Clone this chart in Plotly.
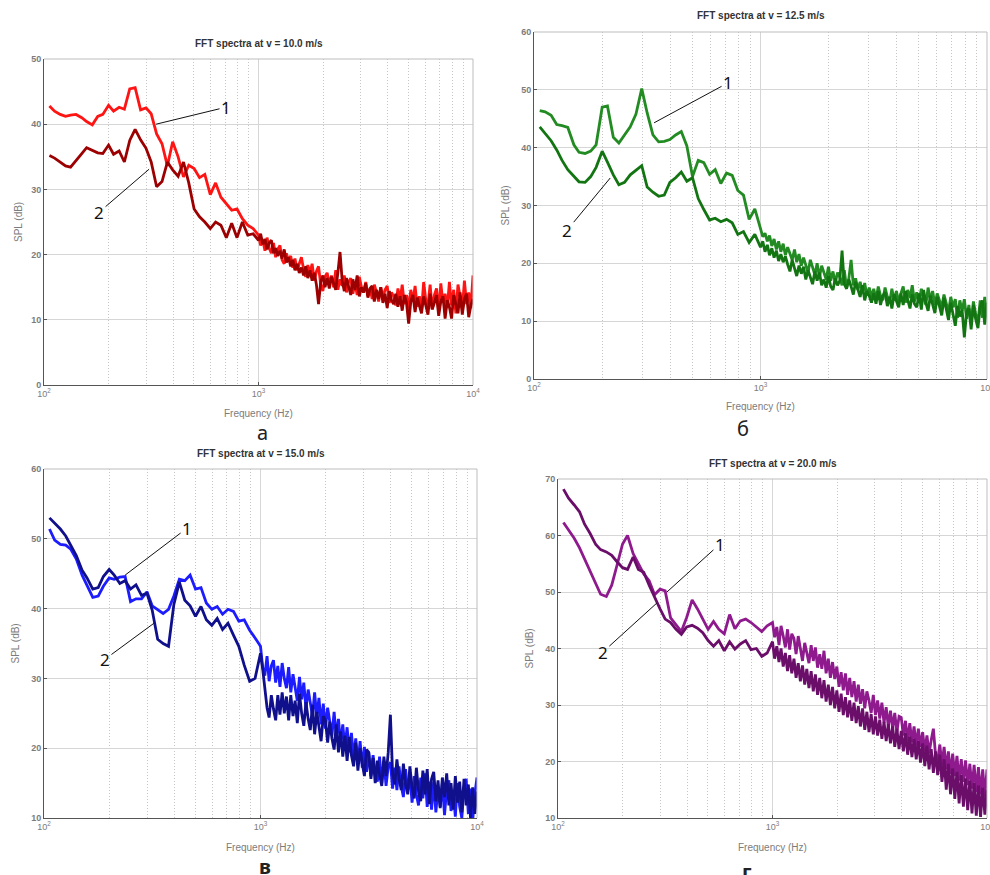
import numpy as np
import plotly.graph_objects as go

# Frequency samples (Hz), shared by all spectra
FREQ = [106, 112, 119, 126, 133, 141, 150, 158, 168, 178, 188, 200, 211, 224, 237, 251, 266, 282, 299, 316,
        335, 355, 376, 398, 422, 447, 473, 501, 531, 562, 596, 631, 668, 708, 750, 794, 841, 891, 944,
        1000, 1023, 1047, 1072, 1096, 1122, 1148, 1175, 1202, 1230,
        1259, 1288, 1318, 1349, 1380, 1413, 1445, 1479, 1514, 1549,
        1585, 1622, 1660, 1698, 1738, 1778, 1820, 1862, 1905, 1950,
        1995, 2042, 2089, 2138, 2188, 2239, 2291, 2344, 2399, 2455,
        2512, 2570, 2630, 2692, 2754, 2818, 2884, 2951, 3020, 3090,
        3162, 3236, 3311, 3388, 3467, 3548, 3631, 3715, 3802, 3890,
        3981, 4074, 4169, 4266, 4365, 4467, 4571, 4677, 4786, 4898,
        5012, 5129, 5248, 5370, 5495, 5623, 5754, 5888, 6026, 6166,
        6310, 6457, 6607, 6761, 6918, 7079, 7244, 7413, 7586, 7762,
        7943, 8128, 8318, 8511, 8710, 8913, 9120, 9333, 9550, 9772, 10000]

# Panel а : v = 10.0 m/s
A1 = [42.8, 42.0, 41.5, 41.2, 41.4, 41.5, 41.0, 40.4, 39.9, 41.2, 41.5, 42.9, 42.0, 42.6, 42.3, 45.4, 45.6, 42.2, 42.5, 41.6,
      38.5, 37.0, 33.6, 37.3, 35.0, 31.9, 33.7, 33.2, 31.8, 32.3, 29.2, 31.0, 28.8, 27.8, 26.8, 27.0, 25.5, 24.5, 24.0,
      23.0, 21.4, 22.2, 20.6, 22.6, 21.0, 20.2, 21.8, 19.6, 20.8,
      21.4, 19.2, 18.6, 20.2, 19.0, 19.8, 18.0, 19.4, 17.6, 18.8,
      19.6, 17.8, 16.6, 18.4, 17.2, 18.6, 16.0, 17.4, 18.2, 15.4,
      14.4, 16.6, 17.2, 15.4, 16.8, 15.0, 17.6, 14.6, 16.2, 15.2,
      16.8, 14.2, 15.8, 16.4, 14.0, 15.6, 13.8, 16.6, 15.0, 14.2,
      15.8, 13.6, 14.8, 13.2, 15.4, 14.2, 12.8, 15.0, 13.4, 14.6,
      15.2, 12.6, 14.2, 13.6, 12.2, 14.8, 13.0, 15.4, 12.4, 13.8,
      11.8, 14.6, 12.8, 15.2, 12.0, 13.6, 11.4, 15.8, 13.0, 12.2,
      15.4, 11.6, 13.8, 14.8, 11.2, 15.6, 12.6, 14.0, 11.8, 15.8,
      12.2, 14.6, 11.0, 15.4, 13.2, 11.6, 16.0, 12.4, 14.2, 11.8, 16.8]
A2 = [35.2, 34.8, 34.2, 33.6, 33.4, 34.5, 35.5, 36.4, 36.0, 35.6, 35.5, 36.8, 35.4, 35.9, 34.2, 37.5, 39.2, 37.6, 36.3, 34.2,
      30.4, 31.2, 34.2, 33.0, 32.0, 34.2, 31.0, 27.0, 25.8, 25.0, 24.0, 25.0, 24.5, 22.6, 24.8, 22.6, 25.0, 23.0, 23.2,
      22.2, 23.2, 21.6, 22.4, 20.8, 21.8, 22.2, 20.2, 21.0, 19.8,
      20.6, 19.4, 20.8, 18.8, 19.6, 18.2, 19.2, 17.6, 18.6, 17.2,
      18.0, 16.8, 18.2, 16.4, 17.6, 16.0, 17.2, 15.4, 12.4, 15.8,
      16.8, 15.0, 16.4, 14.8, 16.6, 15.6, 14.6, 17.2, 20.4, 16.0,
      14.4, 16.4, 15.0, 13.8, 16.2, 14.6, 16.8, 13.6, 15.0, 14.2,
      15.6, 13.4, 14.8, 15.2, 12.8, 14.6, 13.2, 15.0, 12.6, 14.0,
      11.8, 14.4, 13.0, 12.4, 14.0, 12.0, 13.6, 11.4, 13.8, 12.6,
      9.4, 12.8, 13.8, 11.2, 13.4, 12.0, 11.0, 13.6, 12.4, 10.8,
      14.0, 11.6, 12.6, 13.8, 10.6, 12.8, 13.6, 10.2, 13.0, 12.0,
      10.2, 13.8, 12.4, 11.0, 14.2, 10.8, 13.2, 14.0, 10.4, 12.2, 13.2]

# Panel б : v = 12.5 m/s
B1 = [46.4, 46.2, 45.6, 44.0, 43.8, 43.5, 40.5, 39.2, 39.0, 39.4, 40.5, 47.0, 47.2, 41.8, 40.8, 42.2, 43.6, 45.8, 50.2, 46.0,
      42.2, 41.0, 41.1, 41.4, 42.2, 42.8, 40.3, 35.0, 37.8, 37.4, 35.4, 36.2, 33.8, 35.6, 35.2, 32.6, 31.8, 27.6, 29.4,
      26.0, 24.6, 25.2, 23.8, 24.8, 23.0, 24.2, 22.4, 23.8, 22.0,
      23.4, 21.4, 22.8, 21.8, 20.6, 22.4, 20.2, 21.6, 19.6, 21.0,
      19.8, 18.4, 20.6, 19.2, 18.0, 20.0, 17.6, 19.6, 18.4, 17.2,
      19.4, 17.0, 18.6, 16.6, 18.4, 17.6, 16.2, 18.8, 15.8, 17.4,
      20.6, 16.2, 17.4, 15.4, 16.8, 15.0, 16.6, 14.4, 15.8, 14.2,
      15.6, 13.8, 16.0, 14.4, 13.6, 15.8, 14.2, 13.2, 15.6, 13.6,
      15.2, 13.4, 14.8, 16.0, 13.2, 15.4, 14.0, 16.2, 13.4, 15.0,
      13.2, 15.6, 14.2, 12.8, 15.8, 13.6, 15.2, 12.8, 14.8, 13.4,
      12.4, 14.6, 13.2, 11.6, 14.2, 12.4, 13.8, 10.6, 13.6, 11.8,
      13.8, 10.4, 12.8, 9.6, 13.4, 11.2, 9.8, 13.6, 10.6, 14.2, 10.8]
B2 = [43.6, 42.4, 41.2, 39.6, 37.8, 36.2, 35.0, 34.1, 34.0, 35.0, 36.6, 39.4, 37.5, 35.3, 33.6, 34.0, 35.3, 36.1, 36.9, 33.2,
      32.3, 31.6, 31.8, 34.0, 34.8, 35.8, 34.2, 34.8, 31.2, 29.3, 27.5, 27.8, 27.2, 27.6, 27.0, 25.0, 25.5, 23.6, 25.0,
      22.8, 23.8, 22.0, 23.2, 21.4, 22.6, 21.0, 22.2, 20.4, 21.6,
      20.2, 21.2, 19.8, 18.6, 20.6, 19.2, 17.8, 19.6, 18.2, 19.4,
      17.2, 18.8, 17.6, 16.4, 18.6, 17.0, 18.4, 16.2, 17.2, 15.8,
      17.8, 16.0, 15.4, 17.4, 16.2, 17.0, 22.2, 16.4, 15.6, 17.2,
      16.0, 14.6, 16.8, 15.4, 14.2, 16.2, 13.6, 15.2, 14.4, 13.2,
      14.8, 13.0, 15.2, 12.8, 14.4, 15.0, 12.6, 14.2, 12.2, 14.6,
      13.4, 12.4, 14.8, 12.8, 15.2, 13.6, 12.2, 14.6, 13.0, 12.4,
      14.8, 12.0, 15.4, 13.2, 11.8, 14.4, 12.6, 11.4, 14.2, 12.8,
      11.0, 14.0, 12.2, 10.2, 13.2, 11.4, 9.2, 12.6, 10.8, 12.0,
      7.2, 11.6, 12.2, 8.6, 12.8, 10.4, 8.8, 12.4, 13.6, 9.4, 13.2]

# Panel в : v = 15.0 m/s
C1 = [51.4, 49.8, 49.2, 49.1, 48.5, 47.1, 44.8, 43.4, 41.6, 41.8, 43.2, 44.4, 44.2, 44.5, 44.6, 41.0, 41.4, 41.4, 42.4, 40.4,
      39.9, 39.3, 39.9, 41.8, 44.2, 44.0, 44.8, 42.8, 43.0, 40.8, 39.9, 40.3, 39.2, 39.9, 39.6, 38.2, 38.4, 36.9, 35.8,
      34.6, 31.6, 30.4, 33.2, 29.6, 31.8, 32.6, 29.4, 31.8, 28.8,
      32.2, 30.0, 28.6, 31.6, 28.0, 30.6, 28.4, 26.8, 30.2, 27.0,
      29.4, 25.6, 28.4, 26.2, 24.6, 28.0, 24.4, 27.2, 23.4, 26.4,
      22.8, 25.8, 23.4, 21.8, 25.2, 21.6, 24.2, 20.6, 23.4, 20.0,
      23.0, 19.4, 22.2, 18.6, 21.4, 17.8, 21.0, 17.2, 20.2, 16.6,
      19.4, 16.0, 19.0, 16.6, 15.2, 18.8, 15.0, 18.2, 14.6, 17.4,
      18.0, 14.2, 17.2, 14.0, 17.4, 14.6, 13.0, 17.0, 13.8, 16.2,
      12.2, 16.0, 13.4, 11.8, 15.8, 12.8, 16.4, 11.6, 15.2, 11.2,
      15.2, 10.8, 14.4, 11.6, 15.0, 10.4, 14.2, 15.4, 11.0, 13.8,
      10.2, 15.0, 11.6, 10.0, 14.4, 15.6, 10.6, 14.2, 9.6, 13.4, 15.8]
C2 = [53.0, 52.2, 51.4, 50.4, 49.1, 47.6, 45.5, 44.4, 42.8, 43.0, 44.6, 45.6, 44.8, 43.6, 44.0, 42.8, 43.4, 41.9, 42.2, 39.8,
      35.6, 35.0, 34.6, 40.6, 43.8, 41.2, 40.4, 38.9, 40.3, 38.4, 37.6, 38.6, 37.0, 37.9, 36.2, 34.6, 31.9, 29.6, 30.0,
      33.6, 31.4, 28.6, 25.8, 24.4, 27.6, 25.6, 24.0, 27.6, 24.8,
      28.0, 25.0, 27.4, 24.0, 27.6, 24.6, 26.8, 23.6, 27.8, 25.0,
      23.2, 26.6, 24.2, 22.6, 26.2, 22.0, 25.2, 23.0, 21.0, 24.6,
      24.0, 20.8, 23.8, 21.4, 19.8, 23.4, 19.4, 22.4, 18.8, 21.8,
      18.2, 21.6, 19.0, 17.4, 20.8, 16.8, 20.0, 17.8, 16.0, 19.8,
      19.4, 15.6, 18.6, 15.0, 18.2, 16.2, 14.6, 18.8, 16.0, 19.4,
      24.8, 16.4, 14.8, 18.4, 15.6, 14.0, 17.8, 14.8, 13.4, 17.4,
      14.4, 12.8, 17.2, 13.8, 12.4, 16.8, 13.4, 17.0, 12.0, 15.6,
      16.6, 12.4, 15.4, 11.4, 15.8, 13.0, 16.4, 11.8, 15.0, 11.2,
      16.0, 12.2, 15.2, 10.8, 15.6, 11.8, 14.8, 10.0, 14.4, 10.6, 13.8]

# Panel г : v = 20.0 m/s
D1 = [62.3, 61.0, 59.5, 57.8, 55.8, 53.6, 51.5, 49.6, 49.2, 51.2, 54.6, 58.5, 60.0, 56.8, 55.0, 53.2, 52.0, 49.5, 50.5, 50.2,
      45.4, 44.2, 43.0, 45.5, 48.6, 47.0, 45.2, 43.4, 44.8, 43.4, 42.6, 46.0, 43.5, 44.9, 45.2, 44.6, 43.8, 43.0, 44.0,
      44.6, 42.0, 43.8, 40.6, 44.0, 42.2, 40.2, 43.4, 39.8, 42.6,
      41.8, 39.0, 42.2, 40.0, 37.8, 41.0, 39.4, 37.4, 40.6, 37.8,
      40.2, 36.6, 39.0, 36.4, 39.6, 35.6, 38.2, 34.8, 37.6, 34.6,
      36.8, 33.2, 35.8, 32.6, 35.6, 31.8, 34.8, 31.4, 34.2, 30.6,
      33.6, 30.2, 32.8, 29.4, 32.4, 30.8, 28.6, 31.8, 28.2, 30.8,
      27.6, 30.4, 26.8, 29.6, 26.2, 29.0, 25.8, 28.6, 25.2, 28.0,
      27.8, 24.6, 27.2, 23.6, 26.8, 23.4, 26.2, 22.8, 25.8, 22.6,
      25.2, 21.8, 24.6, 21.4, 23.8, 25.8, 21.2, 20.2, 23.0, 19.4,
      22.6, 18.6, 21.8, 17.8, 21.4, 17.4, 21.0, 16.6, 20.4, 16.4,
      20.2, 15.8, 19.6, 15.2, 19.4, 14.6, 19.0, 14.2, 18.6, 13.8, 18.6]
D2 = [68.2, 66.6, 65.4, 64.2, 62.0, 60.4, 58.4, 57.5, 57.1, 56.5, 55.4, 54.3, 54.0, 56.2, 54.0, 53.5, 51.2, 49.0, 47.0, 45.2,
      44.6, 43.4, 42.5, 43.8, 44.1, 43.6, 42.8, 41.4, 40.4, 41.4, 39.6, 41.2, 39.9, 40.8, 41.4, 39.8, 40.0, 38.6, 39.2,
      41.2, 38.2, 40.4, 37.6, 40.0, 36.8, 39.2, 36.0, 38.8, 35.6,
      38.2, 34.8, 37.4, 34.2, 37.0, 33.6, 36.4, 33.0, 36.0, 32.4,
      35.4, 31.8, 34.8, 31.2, 34.4, 30.6, 33.6, 30.0, 33.2, 29.4,
      32.6, 28.8, 32.0, 28.2, 31.4, 27.8, 30.8, 27.2, 30.4, 26.8,
      29.8, 26.2, 29.4, 25.6, 28.8, 25.2, 28.4, 24.8, 28.0, 24.6,
      27.4, 24.0, 27.0, 23.6, 26.6, 23.2, 26.2, 22.6, 25.8, 22.2,
      25.4, 21.8, 25.0, 21.2, 24.4, 20.8, 24.0, 20.4, 23.6, 19.8,
      23.2, 19.2, 22.8, 18.6, 22.2, 18.0, 21.8, 17.6, 21.2, 16.4,
      20.4, 15.0, 19.6, 14.2, 18.8, 13.4, 18.2, 12.6, 17.6, 12.0,
      17.0, 11.4, 16.6, 10.8, 16.2, 10.4, 15.8, 10.2, 15.4, 10.6, 15.0]

TITLES = ["FFT spectra at v = 10.0 m/s", "FFT spectra at v = 12.5 m/s",
          "FFT spectra at v = 15.0 m/s", "FFT spectra at v = 20.0 m/s"]
LETTERS = ["а", "б", "в", "г"]
Y_TICKS = [[0, 10, 20, 30, 40, 50], [0, 10, 20, 30, 40, 50, 60],
           [10, 20, 30, 40, 50, 60], [10, 20, 30, 40, 50, 60, 70]]
X_TICKS = [100, 1000, 10000]
X_TICKTEXT = ["10<sup>2</sup>", "10<sup>3</sup>", "10<sup>4</sup>"]
X_MINOR = [200, 300, 400, 500, 600, 700, 800, 900, 2000, 3000, 4000, 5000, 6000, 7000, 8000, 9000]
# label leader-line tips: (freq, SPL) for curve 1 and 2
TIPS = [[(333, 40.0), (309, 33.1)], [(339, 44.3), (217, 34.75)],
        [(237, 44.8), (322, 37.9)], [(322, 50.0), (289, 48.05)]]

W, H = 990, 875
# plot boxes in pixels: left, right, top, bottom
BOX = [(44, 473, 59, 385), (534, 987, 32, 379), (44, 477, 469, 818), (558, 987, 479, 818)]
COLORS = [("#ff1414", "#9c0000"), ("#228b22", "#127512"), ("#1c1cff", "#10108c"), ("#8e1a8e", "#6a0e6a")]
SERIES = [(A1, A2), (B1, B2), (C1, C2), (D1, D2)]
LABEL_OFFS = [[(70, -17), (-50, 43)], [(74, -40), (-43, 52)], [(62, -47), (-49, 36)], [(53, -48), (-54, 49)]]
TITLE_Y = [43, 16, 453, 463]
XLAB_Y = [413, 407, 847, 847]
LET_POS = [(262, 432), (743, 429), (265, 866), (747, 871)]
YLAB_X = [18, 505, 15, 529]

for s in SERIES:
    assert len(s[0]) == len(FREQ), (len(s[0]), len(FREQ))
    assert len(s[1]) == len(FREQ), (len(s[1]), len(FREQ))

fig = go.Figure()
annotations = []
gray = "#7c7c7c"
for i in range(4):
    sfx = "" if i == 0 else str(i + 1)
    l, r, t, b = BOX[i]
    for k in range(2):
        fig.add_trace(go.Scatter(x=FREQ, y=SERIES[i][k], mode="lines", xaxis="x" + sfx, yaxis="y" + sfx,
                                 line=dict(color=COLORS[i][k], width=2.8), showlegend=False,
                                 hoverinfo="skip"))
    yt = Y_TICKS[i]
    fig.update_layout(**{
        "xaxis" + sfx: dict(type="log", range=[2, 4], domain=[l / W, r / W], anchor="y" + sfx,
                            tickmode="array", tickvals=X_TICKS, ticktext=X_TICKTEXT,
                            ticklabeloverflow="allow",
                            showgrid=True, gridcolor="#d6d6d6", gridwidth=1,
                            showline=True, linecolor="#555555", linewidth=1, mirror=False,
                            ticks="inside", ticklen=3, tickcolor="#555555",
                            tickfont=dict(family="Liberation Sans", size=9, color=gray),
                            minor=dict(tickmode="array", tickvals=X_MINOR, showgrid=True,
                                       gridcolor="#c6c6c6", griddash="1px,2px", gridwidth=1, ticks=""),
                            zeroline=False, fixedrange=True),
        "yaxis" + sfx: dict(range=[yt[0], yt[-1]], domain=[1 - b / H, 1 - t / H], anchor="x" + sfx,
                            tickmode="array", tickvals=yt, ticktext=[str(v) for v in yt],
                            showgrid=True, gridcolor="#d6d6d6", gridwidth=1,
                            showline=True, linecolor="#555555", linewidth=1,
                            ticks="inside", ticklen=3, tickcolor="#555555",
                            tickfont=dict(family="Liberation Sans", size=9, color=gray, weight="bold"),
                            zeroline=False, fixedrange=True),
    })
    # right/top frame lines (light)
    fig.add_shape(type="line", xref="paper", yref="paper", x0=r / W, x1=r / W, y0=1 - b / H, y1=1 - t / H,
                  line=dict(color="#bdbdbd", width=1))
    fig.add_shape(type="line", xref="paper", yref="paper", x0=l / W, x1=r / W, y0=1 - t / H, y1=1 - t / H,
                  line=dict(color="#bdbdbd", width=1))
    cx = (l + r) / 2 / W
    annotations.append(dict(text="<b>" + TITLES[i] + "</b>", x=cx, y=1 - TITLE_Y[i] / H, xref="paper",
                            yref="paper", showarrow=False, xanchor="center", yanchor="middle",
                            font=dict(family="Liberation Sans", size=10, color="#333333")))
    annotations.append(dict(text="Frequency (Hz)", x=cx, y=1 - XLAB_Y[i] / H, xref="paper", yref="paper",
                            showarrow=False, xanchor="center", yanchor="middle",
                            font=dict(family="Liberation Sans", size=10, color=gray)))
    annotations.append(dict(text="SPL (dB)", x=YLAB_X[i] / W, y=1 - (t + b) / 2 / H, xref="paper",
                            yref="paper", showarrow=False, textangle=-90, xanchor="center",
                            yanchor="middle", font=dict(family="Liberation Sans", size=10, color=gray)))
    lx, ly = LET_POS[i]
    bold = i >= 2
    annotations.append(dict(text=("<b>%s</b>" % LETTERS[i]) if bold else LETTERS[i], x=lx / W, y=1 - ly / H,
                            xref="paper", yref="paper", showarrow=False, xanchor="center", yanchor="middle",
                            font=dict(family="Noto Sans", size=20, color="#222222")))
    for k in range(2):
        f, v = TIPS[i][k]
        axo, ayo = LABEL_OFFS[i][k]
        annotations.append(dict(text=str(k + 1), x=np.log10(f), y=v, xref="x" + sfx, yref="y" + sfx,
                                showarrow=True, arrowhead=0, arrowwidth=1, arrowcolor="#111111",
                                ax=axo, ay=ayo, standoff=0, startstandoff=0,
                                font=dict(family="Noto Sans", size=17, color="#111111")))

fig.update_layout(width=W, height=H, margin=dict(l=0, r=0, t=0, b=0, autoexpand=False),
                  paper_bgcolor="white", plot_bgcolor="white", annotations=annotations,
                  showlegend=False)
fig.write_html("out.html", config={"displayModeBar": False},
               post_script="document.body.style.margin='0px';document.body.style.padding='0px';"
                           "document.body.style.overflow='hidden';")
